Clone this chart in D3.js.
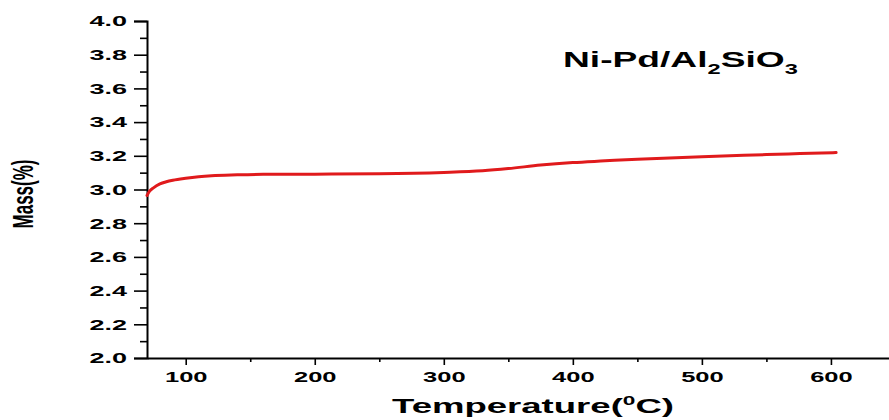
<!DOCTYPE html>
<html>

<head>
  <meta charset="utf-8">
  <style>
    body {
      margin: 0;
      padding: 0;
      background: white;
      font-family: "Liberation Sans", Arial, sans-serif;
    }

    .axis text {
      font-weight: bold;
      fill: black;
    }

    .axis path,
    .axis line {
      stroke: black;
    }

    .label {
      font-weight: bold;
      fill: black;
    }

    .curve {
      fill: none;
      stroke: #e01a1c;
      stroke-width: 3;
      stroke-linejoin: round;
      stroke-linecap: round;
    }
  </style>
</head>

<body>
  <div id="chart"></div>

  <script src="https://d3js.org/d3.v7.min.js"></script>
  <script>
    // TGA curve
    var temps = [70, 72, 75, 80, 85, 90, 100, 110, 120, 140, 160, 200, 250, 300, 330, 350, 375, 400, 425, 450, 500, 550, 576, 604]
    var mass = [2.965, 2.99, 3.01, 3.033, 3.046, 3.055, 3.067, 3.076, 3.082, 3.087, 3.09, 3.091, 3.093, 3.101, 3.111, 3.124, 3.145, 3.16, 3.17, 3.18, 3.195, 3.207, 3.213, 3.219]

    // ticks
    var xTicks = [100, 200, 300, 400, 500, 600]
    var xMinor = [150, 250, 350, 450, 550]
    var yTicks = [2.0, 2.2, 2.4, 2.6, 2.8, 3.0, 3.2, 3.4, 3.6, 3.8, 4.0]
    var yMinor = [2.1, 2.3, 2.5, 2.7, 2.9, 3.1, 3.3, 3.5, 3.7, 3.9]

    var width = 889,
      height = 420

    var svg = d3.select("#chart")
      .append("svg")
      .attr("width", width)
      .attr("height", height)

    var x = d3.scaleLinear().domain([70, 645]).range([147, 889])
    var y = d3.scaleLinear().domain([2, 4]).range([358, 21])

    // the source image is stretched sideways, so text is too
    var sxTick = 1.8,
      sxX = 1.7

    // y axis (major + minor)
    var yAxis = svg.append("g")
      .attr("class", "axis")
      .attr("transform", "translate(" + x(70) + ",0)")
      .call(d3.axisLeft(y).tickValues(yTicks).tickSize(13).tickPadding(7).tickFormat(d3.format(".1f")))

    yAxis.select(".domain").attr("stroke-width", 2)
    yAxis.selectAll(".tick line").attr("stroke-width", 1.6)
    yAxis.selectAll(".tick text")
      .style("font-size", "15px")
      .attr("x", -20 / sxTick)
      .attr("transform", "scale(" + sxTick + ",1)")

    svg.append("g")
      .attr("class", "axis")
      .attr("transform", "translate(" + x(70) + ",0)")
      .call(d3.axisLeft(y).tickValues(yMinor).tickSize(7).tickFormat(""))
      .call(function(g) { g.select(".domain").remove() })
      .selectAll(".tick line").attr("stroke-width", 1.6)

    // x axis (major + minor)
    var xAxis = svg.append("g")
      .attr("class", "axis")
      .attr("transform", "translate(0," + y(2) + ")")
      .call(d3.axisBottom(x).tickValues(xTicks).tickSize(7).tickPadding(6).tickSizeOuter(0))

    xAxis.select(".domain").attr("stroke", "#444").attr("stroke-width", 2)
    xAxis.selectAll(".tick line").attr("stroke-width", 1.6)
    xAxis.selectAll(".tick text")
      .style("font-size", "15px")
      .attr("transform", "scale(" + sxX + ",1)")

    svg.append("g")
      .attr("class", "axis")
      .attr("transform", "translate(0," + y(2) + ")")
      .call(d3.axisBottom(x).tickValues(xMinor).tickSize(4).tickFormat(""))
      .call(function(g) { g.select(".domain").remove() })
      .selectAll(".tick line").attr("stroke-width", 1.6)

    // the curve
    var points = temps.map(function(t, i) {
      return [t, mass[i]]
    })

    var line = d3.line()
      .x(function(d) { return x(d[0]) })
      .y(function(d) { return y(d[1]) })
      .curve(d3.curveMonotoneX)

    svg.append("path")
      .datum(points)
      .attr("class", "curve")
      .attr("d", line)

    // axis titles
    svg.append("text")
      .attr("class", "label")
      .attr("transform", "translate(33,194) scale(1.75,1) rotate(-90)")
      .attr("text-anchor", "middle")
      .style("font-size", "17px")
      .text("Mass(%)")

    var xLabel = svg.append("text")
      .attr("class", "label")
      .attr("transform", "translate(533,413) scale(1.74,1)")
      .attr("text-anchor", "middle")
      .style("font-size", "21px")
    xLabel.append("tspan").text("Temperature(")
    xLabel.append("tspan").attr("dy", -8).style("font-size", "13px").text("0")
    xLabel.append("tspan").attr("dy", 8).text("C)")

    // sample name
    var title = svg.append("text")
      .attr("class", "label")
      .attr("transform", "translate(563,67) scale(1.69,1)")
      .style("font-size", "22px")
    title.append("tspan").text("Ni-Pd/Al")
    title.append("tspan").attr("dy", 7).style("font-size", "14px").text("2")
    title.append("tspan").attr("dy", -7).text("SiO")
    title.append("tspan").attr("dy", 7).style("font-size", "14px").text("3")
  </script>
</body>

</html>
